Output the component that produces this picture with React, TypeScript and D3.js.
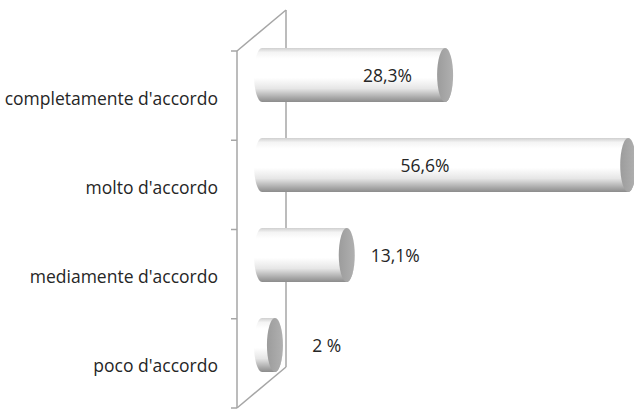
import React from "react";
import * as d3 from "d3";

const categories = ["completamente d'accordo", "molto d'accordo", "mediamente d'accordo", "poco d'accordo"];
const values = [28.3, 56.6, 13.1, 2];
const valueLabels = ["28,3%", "56,6%", "13,1%", "2 %"];
const labelAt = [19.4, 25.2, 20.6, 10.0];

const W = 634;
const H = 410;

export default function App() {
  const x = d3.scaleLinear().domain([0, 60]).range([262, 262 + 6.47 * 60]);
  // front plane (bars) bands
  const yBar = d3.scaleBand<string>().domain(categories).range([30, 390]).paddingInner(0.4).paddingOuter(0.2);
  // back plane (wall) bands
  const yWall = d3.scaleBand<string>().domain(categories).range([51, 408]);
  const depthX = 49;
  const depthY = -41;
  const wallX = 237;
  const rx = 8;
  const lineColor = "#a6a6a6";
  const font = "'Open Sans', sans-serif";
  const fs = 17.5;

  const wallTop = yWall.range()[0];
  const wallBot = yWall.range()[1];
  const ticks = [...categories.map((c) => yWall(c)!), wallBot];

  return (
    <svg width={W} height={H} style={{ position: "absolute", left: 0, top: 0, background: "#fff" }}>
      <defs>
        <linearGradient id="cyl" x1="0" y1="0" x2="0" y2="1">
          <stop offset="0" stopColor="#cfcfcf" />
          <stop offset="0.08" stopColor="#f4f4f4" />
          <stop offset="0.2" stopColor="#ffffff" />
          <stop offset="0.55" stopColor="#ffffff" />
          <stop offset="0.75" stopColor="#e6e6e6" />
          <stop offset="0.92" stopColor="#a8a8a8" />
          <stop offset="1" stopColor="#8c8c8c" />
        </linearGradient>
        <linearGradient id="cap" x1="0" y1="0" x2="1" y2="0">
          <stop offset="0" stopColor="#9c9c9c" />
          <stop offset="1" stopColor="#b0b0b0" />
        </linearGradient>
      </defs>
      {/* wall */}
      <g stroke={lineColor} strokeWidth={1.5} fill="none">
        <line x1={wallX} y1={wallTop} x2={wallX} y2={wallBot} />
        <line x1={wallX} y1={wallTop} x2={wallX + depthX} y2={wallTop + depthY} />
        <line x1={wallX + depthX} y1={wallTop + depthY} x2={wallX + depthX} y2={wallBot + depthY} />
        <line x1={wallX} y1={wallBot} x2={wallX + depthX} y2={wallBot + depthY} />
        {ticks.map((t, i) => (
          <line key={i} x1={wallX - 6} y1={t} x2={wallX} y2={t} />
        ))}
      </g>
      {/* bars */}
      {categories.map((c, i) => {
        const y0 = yBar(c)!;
        const h = yBar.bandwidth();
        const ry = h / 2;
        const cy = y0 + ry;
        const x0 = x(0);
        const x1 = x(values[i]);
        const body = `M${x0},${y0} L${x1},${y0} A${rx},${ry} 0 0 1 ${x1},${y0 + h} L${x0},${y0 + h} A${rx},${ry} 0 0 1 ${x0},${y0} Z`;
        return (
          <g key={c}>
            <path d={body} fill="url(#cyl)" />
            <ellipse cx={x1} cy={cy} rx={rx} ry={ry} fill="url(#cap)" />
          </g>
        );
      })}
      {/* value labels */}
      {categories.map((c, i) => (
        <text
          key={"v" + c}
          x={x(labelAt[i])}
          y={yBar(c)! + yBar.bandwidth() / 2}
          textAnchor="middle"
          dominantBaseline="central"
          fontFamily={font}
          fontSize={fs}
          fill="#262626"
        >
          {valueLabels[i]}
        </text>
      ))}
      {/* category labels */}
      {categories.map((c) => (
        <text
          key={"c" + c}
          x={218}
          y={yWall(c)! + yWall.bandwidth() / 2 + 2}
          textAnchor="end"
          dominantBaseline="central"
          fontFamily={font}
          fontSize={fs}
          fill="#262626"
        >
          {c}
        </text>
      ))}
    </svg>
  );
}
